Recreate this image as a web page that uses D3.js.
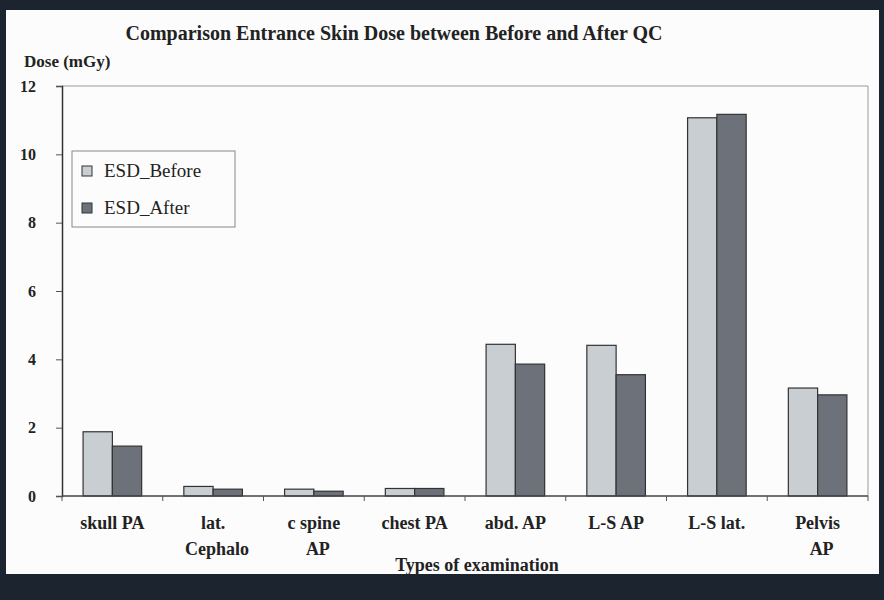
<!DOCTYPE html>
<html>
<head>
<meta charset="utf-8">
<script src="https://cdn.jsdelivr.net/npm/d3@7"></script>
<style>
  body { margin: 0; background: #1c2430; }
  svg text { font-family: "Liberation Serif", "DejaVu Serif", serif; fill: #222; }
</style>
</head>
<body>
<div id="main"></div>
<script>
// data
const categories = [['skull PA'], ['lat.', 'Cephalo'], ['c spine', 'AP'], ['chest PA'], ['abd. AP'], ['L-S AP'], ['L-S lat.'], ['Pelvis', 'AP']];
const esdBefore = [1.88, 0.28, 0.2, 0.22, 4.44, 4.41, 11.07, 3.16];
const esdAfter = [1.46, 0.2, 0.14, 0.22, 3.86, 3.55, 11.17, 2.96];
const yTicks = [0, 2, 4, 6, 8, 10, 12];
const seriesNames = ['ESD_Before', 'ESD_After'];
const seriesColors = ['#c9ced3', '#6d727a'];

const W = 884, H = 600;
const plot = { left: 62, right: 868, top: 86, bottom: 496 };

const svg = d3.select('#main').append('svg')
  .attr('width', W)
  .attr('height', H);

// dark frame + white sheet
svg.append('rect').attr('width', W).attr('height', H).attr('fill', '#1c2430');
svg.append('rect')
  .attr('x', 6).attr('y', 10)
  .attr('width', 873).attr('height', 564)
  .attr('fill', '#fcfcfc');

const keys = categories.map((c, i) => i);
const xScale = d3.scaleBand()
  .domain(keys)
  .range([plot.left, plot.right]);

const yScale = d3.scaleLinear()
  .domain([0, 12])
  .range([plot.bottom, plot.top]);

const inner = d3.scaleBand()
  .domain([0, 1])
  .range([0, xScale.bandwidth()])
  .paddingInner(0)
  .paddingOuter(0.72);

// plot frame top/right
svg.append('path')
  .attr('d', `M${plot.left},${plot.top}H${plot.right}V${plot.bottom}`)
  .attr('fill', 'none')
  .attr('stroke', '#999')
  .attr('stroke-width', 1);

// bars
const groups = svg.append('g').selectAll('g')
  .data(keys)
  .enter().append('g')
  .attr('transform', (d) => `translate(${xScale(d)},0)`);

[esdBefore, esdAfter].forEach((series, s) => {
  groups.append('rect')
    .attr('x', inner(s))
    .attr('y', (d) => yScale(series[d]))
    .attr('width', inner.bandwidth())
    .attr('height', (d) => yScale(0) - yScale(series[d]))
    .attr('fill', seriesColors[s])
    .attr('stroke', '#333')
    .attr('stroke-width', 1.2);
});

// y axis
const yAxis = svg.append('g')
  .attr('transform', `translate(${plot.left},0)`)
  .call(d3.axisLeft(yScale).tickValues(yTicks).tickSize(6).tickPadding(20));
yAxis.select('.domain').attr('stroke', '#333').attr('stroke-width', 1.5);
yAxis.selectAll('.tick line').attr('stroke', '#555');
yAxis.selectAll('.tick text')
  .style('font-size', '16px')
  .style('font-family', '"Liberation Serif", serif')
  .style('font-weight', 'bold')
  .style('fill', '#222');

// x axis with boundary ticks
const xAxis = svg.append('g')
  .attr('transform', `translate(0,${plot.bottom})`);
xAxis.append('line')
  .attr('x1', plot.left).attr('x2', plot.right)
  .attr('stroke', '#444').attr('stroke-width', 1.5);
xAxis.selectAll('.bt')
  .data(keys.concat([keys.length]))
  .enter().append('line')
  .attr('x1', (d) => d < keys.length ? xScale(d) : plot.right)
  .attr('x2', (d) => d < keys.length ? xScale(d) : plot.right)
  .attr('y1', 0).attr('y2', 5)
  .attr('stroke', '#555');

// category labels
const labels = svg.append('g').selectAll('text')
  .data(keys)
  .enter().append('text')
  .attr('x', (d) => xScale(d) + xScale.bandwidth() / 2)
  .attr('y', 529)
  .attr('text-anchor', 'middle')
  .style('font-size', '18px')
  .style('font-weight', 'bold');
labels.each(function (d) {
  const t = d3.select(this);
  categories[d].forEach((line, j) => {
    t.append('tspan')
      .attr('x', xScale(d) + xScale.bandwidth() / 2 + j * 4)
      .attr('dy', j === 0 ? 0 : 26)
      .text(line);
  });
});

// titles
svg.append('text')
  .attr('x', 394).attr('y', 40)
  .attr('text-anchor', 'middle')
  .style('font-size', '20px')
  .style('font-weight', 'bold')
  .text('Comparison Entrance Skin Dose between Before and After QC');

svg.append('text')
  .attr('x', 24).attr('y', 67)
  .style('font-size', '17px')
  .style('font-weight', 'bold')
  .text('Dose (mGy)');

svg.append('text')
  .attr('x', 477).attr('y', 571)
  .attr('text-anchor', 'middle')
  .style('font-size', '18px')
  .style('font-weight', 'bold')
  .text('Types of examination');

// legend
const legend = svg.append('g').attr('transform', 'translate(72,151)');
legend.append('rect')
  .attr('width', 163).attr('height', 76)
  .attr('fill', '#fcfcfc')
  .attr('stroke', '#888');
seriesNames.forEach((name, i) => {
  const row = legend.append('g').attr('transform', `translate(10,${21 + i * 37})`);
  row.append('rect')
    .attr('x', 0).attr('y', -6)
    .attr('width', 10).attr('height', 10)
    .attr('fill', seriesColors[i])
    .attr('stroke', '#333');
  row.append('text')
    .attr('x', 22).attr('y', 5)
    .style('font-size', '19px')
    .style('font-weight', 'normal')
    .text(name);
});
</script>
</body>
</html>
